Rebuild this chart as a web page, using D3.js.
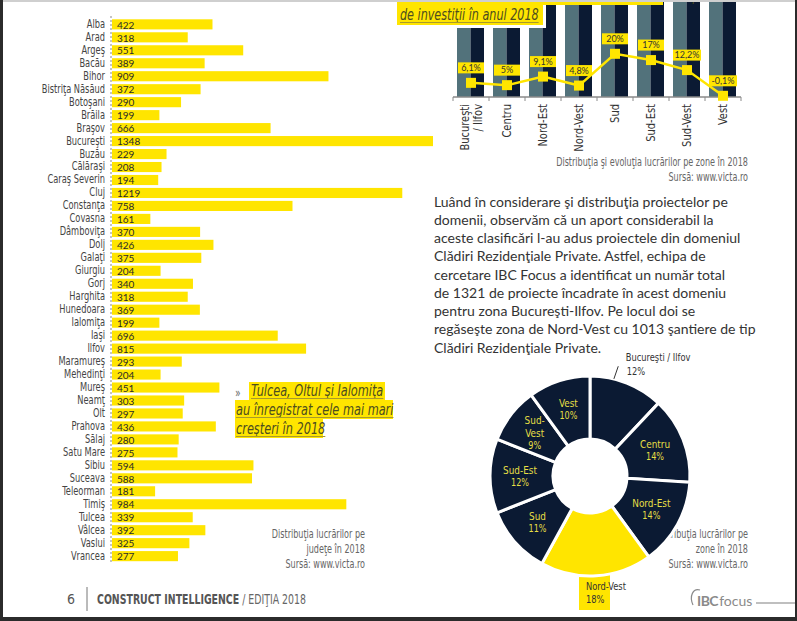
<!DOCTYPE html>
<html><head><meta charset="utf-8">
<script src="https://cdn.jsdelivr.net/npm/d3@7"></script>
<style>
html,body{margin:0;padding:0;background:#fff;}
svg{display:block;}
</style></head><body>
<svg id="c" width="797" height="621"></svg>
<script>
// ---- data ----
const counties = ["Alba","Arad","Argeş","Bacău","Bihor","Bistriţa Năsăud","Botoşani","Brăila","Braşov","Bucureşti","Buzău","Călăraşi","Caraş Severin","Cluj","Constanţa","Covasna","Dâmboviţa","Dolj","Galaţi","Giurgiu","Gorj","Harghita","Hunedoara","Ialomiţa","Iaşi","Ilfov","Maramureş","Mehedinţi","Mureş","Neamţ","Olt","Prahova","Sălaj","Satu Mare","Sibiu","Suceava","Teleorman","Timiş","Tulcea","Vâlcea","Vaslui","Vrancea"];
const countyValues = [422,318,551,389,909,372,290,199,666,1348,229,208,194,1219,758,161,370,426,375,204,340,318,369,199,696,815,293,204,451,303,297,436,280,275,594,588,181,984,339,392,325,277];

const zones = ["Bucureşti / Ilfov","Centru","Nord-Est","Nord-Vest","Sud","Sud-Est","Sud-Vest","Vest"];
// bars run past the top of the page; heights estimated
const zoneWorks2017 = [2560,1740,1530,1890,1180,1140,950,1470];
const zoneWorks2018 = [2716,1827,1669,1981,1416,1334,1066,1469];
const zoneGrowth = [6.1,5,9.1,4.8,20,17,12.2,-0.1];
const zoneGrowthLabels = ["6,1%","5%","9,1%","4,8%","20%","17%","12,2%","-0,1%"];

const donutZones = ["Bucureşti / Ilfov","Centru","Nord-Est","Nord-Vest","Sud","Sud-Est","Sud-Vest","Vest"];
const donutShares = [12,14,14,18,11,12,9,10];

const paragraph = [
 "Luând în considerare şi distribuţia proiectelor pe",
 "domenii, observăm că un aport considerabil la",
 "aceste clasificări l-au adus proiectele din domeniul",
 "Clădiri Rezidenţiale Private. Astfel, echipa de",
 "cercetare IBC Focus a identificat un număr total",
 "de 1321 de proiecte încadrate în acest domeniu",
 "pentru zona Bucureşti-Ilfov. Pe locul doi se",
 "regăseşte zona de Nord-Vest cu 1013 şantiere de tip",
 "Clădiri Rezidenţiale Private."
];
const calloutLines = ["Tulcea, Oltul şi Ialomiţa","au înregistrat cele mai mari","creşteri în 2018"];

// ---- style ----
const YEL = "#ffe500", NAVY = "#0b1a33", TEAL = "#52727b";
const COND = '"Liberation Sans Narrow","Arial Narrow","DejaVu Sans Condensed",sans-serif';
const BODY = 'Lato,"Open Sans",sans-serif';

const svg = d3.select("#c");
// horizontally condense a text around its anchor x
function squeeze(sel, ax, k) {
  sel.attr("transform", `translate(${ax},0) scale(${k},1) translate(${-ax},0)`);
  return sel;
}

// ---- County bar chart ----
const yC = d3.scaleBand().domain(counties).range([19.3, 561.2]).paddingInner(0.22);
const xC = d3.scaleLinear().domain([0, 1348]).range([112, 433]);
const gC = svg.append("g");
gC.append("line").attr("x1",111).attr("x2",111).attr("y1",16).attr("y2",564)
  .attr("stroke","#888").attr("stroke-width",1).attr("stroke-dasharray","2,2");
gC.selectAll("rect.b").data(counties).join("rect")
  .attr("x", xC(0)).attr("y", d=>yC(d)).attr("height", yC.bandwidth())
  .attr("width", (d,i)=>xC(countyValues[i])-xC(0)).attr("fill", YEL);
gC.selectAll("text.n").data(counties).join("text")
  .attr("x",105).attr("y", d=>yC(d)+yC.bandwidth()/2).attr("dy","0.3em")
  .attr("text-anchor","end").attr("font-family",COND).attr("font-size",11.5)
  .attr("fill","#444").text(d=>d)
  .attr("transform","translate(105,0) scale(0.8,1) translate(-105,0)");
gC.selectAll("text.v").data(counties).join("text")
  .attr("x",117).attr("y", d=>yC(d)+yC.bandwidth()/2).attr("dy","0.42em")
  .attr("font-family",BODY).attr("font-size",10).attr("fill","#2a2a2a")
  .text((d,i)=>countyValues[i]);

// caption
const cap1 = svg.append("text").attr("font-family",COND).attr("font-size",11.5).attr("fill","#666").attr("text-anchor","end");
[["Distribuţia lucrărilor pe",538],["judeţe în 2018",553],["Sursă: www.victa.ro",568]].forEach(([t,y])=>
  cap1.append("tspan").attr("x",365).attr("y",y).text(t));
squeeze(cap1, 365, 0.78);

// callout
const gCall = svg.append("g");
const callBoxes = [[249,382,136,18],[235,400,158,19],[235,419,88,19]];
callBoxes.forEach(b=>gCall.append("rect").attr("x",b[0]).attr("y",b[1]).attr("width",b[2]).attr("height",b[3]).attr("fill",YEL));
gCall.append("text").attr("x",235).attr("y",397).attr("font-family",BODY).attr("font-size",13).attr("fill","#777").text("»");
calloutLines.forEach((t,i)=>{
  const x0 = i===0?251:236, y0 = [396,415,434][i];
  const tx = gCall.append("text").attr("x", x0).attr("y",y0)
   .attr("font-family",COND).attr("font-style","italic").attr("font-size",15)
   .attr("fill","#4d4d1f").text(t);
  squeeze(tx, x0, 0.84);
  const w = tx.node().getComputedTextLength()*0.84;
  gCall.append("line").attr("x1",x0).attr("x2",x0+w).attr("y1",y0+2.5).attr("y2",y0+2.5)
   .attr("stroke","#a99a2a").attr("stroke-width",1);
});

// ---- Zone grouped bars + growth line ----
const xZ = d3.scaleBand().domain(zones).range([453, 741]);
const xSub = d3.scaleBand().domain(["2017","2018"]).range([4, 31]);
const yZ = d3.scaleLinear().domain([0, 3000]).range([97, -250]);
const yG = d3.scaleLinear().domain([0, 20]).range([95.6, 53.8]);
const gZ = svg.append("g");
zones.forEach((z,i)=>{
  gZ.append("rect").attr("x", xZ(z)+xSub("2017")).attr("width", xSub.bandwidth())
    .attr("y", yZ(zoneWorks2017[i])).attr("height", yZ(0)-yZ(zoneWorks2017[i])).attr("fill",TEAL);
  gZ.append("rect").attr("x", xZ(z)+xSub("2018")).attr("width", xSub.bandwidth())
    .attr("y", yZ(zoneWorks2018[i])).attr("height", yZ(0)-yZ(zoneWorks2018[i])).attr("fill",NAVY);
});
gZ.append("line").attr("x1",453).attr("x2",741).attr("y1",97).attr("y2",97).attr("stroke","#8a8a8a").attr("stroke-width",1.5);
d3.range(zones.length+1).forEach(i=>{
  const x = 453 + i*xZ.step();
  gZ.append("line").attr("x1",x).attr("x2",x).attr("y1",97).attr("y2",101).attr("stroke","#8a8a8a").attr("stroke-width",1);
});
const cx = z => xZ(z)+xZ.bandwidth()/2;
gZ.append("path").datum(zones).attr("fill","none").attr("stroke",YEL).attr("stroke-width",2.5)
  .attr("d", d3.line().x(z=>cx(z)).y((z,i)=>yG(zoneGrowth[i])));
gZ.selectAll("rect.pt").data(zones).join("rect")
  .attr("x", z=>cx(z)-5).attr("y",(z,i)=>yG(zoneGrowth[i])-5).attr("width",10).attr("height",10).attr("fill",YEL);
zones.forEach((z,i)=>{
  const y = yG(zoneGrowth[i]) - 15;
  const w = zoneGrowthLabels[i].length > 4 ? 28 : 26;
  gZ.append("rect").attr("x", cx(z)-w/2).attr("y", y-5.5).attr("width",w).attr("height",11).attr("fill",YEL);
  gZ.append("text").attr("x", cx(z)).attr("y", y).attr("dy","0.35em").attr("text-anchor","middle")
    .attr("font-family",BODY).attr("font-size",9).attr("fill","#333").text(zoneGrowthLabels[i]);
});
// rotated category labels
zones.forEach(z=>{
  const g = gZ.append("g").attr("transform",`translate(${cx(z)},104) rotate(-90) scale(0.92,1)`);
  const t = g.append("text").attr("text-anchor","end").attr("font-family",COND).attr("font-size",12).attr("fill","#333");
  if (z.includes("/")) {
    const parts = z.split(" / ");
    t.append("tspan").attr("x",0).attr("y",-2).text(parts[0]);
    t.append("tspan").attr("x",0).attr("y",11).text("/ "+parts[1]);
  } else {
    t.attr("y",4).text(z);
  }
});
const cap2 = svg.append("text").attr("font-family",COND).attr("font-size",11.5).attr("fill","#666").attr("text-anchor","end");
cap2.append("tspan").attr("x",748).attr("y",166).text("Distribuţia şi evoluţia lucrărilor pe zone în 2018");
cap2.append("tspan").attr("x",748).attr("y",181).text("Sursă: www.victa.ro");
squeeze(cap2, 748, 0.78);

// title box top
svg.append("rect").attr("x",395).attr("y",-4).attr("width",151).attr("height",32).attr("fill","#fff");
svg.append("rect").attr("x",397).attr("y",-4).attr("width",266).attr("height",9).attr("fill",YEL);
svg.append("rect").attr("x",397).attr("y",-4).attr("width",146).attr("height",29).attr("fill",YEL);
const tt1 = svg.append("text").attr("font-family",COND).attr("font-style","italic").attr("font-size",15).attr("fill","#4d4d1f")
  .attr("x",400).attr("y",1).text("Zona Nord-Vest a avut cel mai mare număr total de proiecte");
squeeze(tt1, 400, 0.83);
const tt2 = svg.append("text").attr("font-family",COND).attr("font-style","italic").attr("font-size",15).attr("fill","#4d4d1f")
  .attr("x",400).attr("y",20).text("de investiţii în anul 2018");
squeeze(tt2, 400, 0.83);
svg.append("line").attr("x1",400).attr("x2",400+tt2.node().getComputedTextLength()*0.83).attr("y1",22.5).attr("y2",22.5)
  .attr("stroke","#a99a2a").attr("stroke-width",1);

// paragraph
const para = svg.append("text").attr("font-family",BODY).attr("font-size",14).attr("fill","#333");
paragraph.forEach((l,i)=>para.append("tspan").attr("x",434).attr("y",206.5+i*18.25).text(l));

// ---- donut ----
const cap3 = svg.append("text").attr("font-family",COND).attr("font-size",11.5).attr("fill","#666").attr("text-anchor","end");
[["Distribuţia lucrărilor pe",538],["zone în 2018",553],["Sursă: www.victa.ro",568]].forEach(([t,y])=>
  cap3.append("tspan").attr("x",748).attr("y",y).text(t));
squeeze(cap3, 748, 0.78);

const DC = [590, 476];
const pie = d3.pie().sort(null).value(d=>d)(donutShares);
const arc = d3.arc().innerRadius(37).outerRadius(100);
const gD = svg.append("g").attr("transform",`translate(${DC[0]},${DC[1]})`);
const hi = donutZones.indexOf("Nord-Vest");
gD.append("rect").attr("x",-11).attr("y",85).attr("width",31).attr("height",49).attr("fill",YEL);
gD.selectAll("path").data(pie).join("path").attr("d",arc)
  .attr("fill",(d,i)=> i===hi ? YEL : NAVY).attr("stroke","#fff").attr("stroke-width",3);
const lArc = d3.arc().innerRadius(70).outerRadius(70);
pie.forEach((p,i)=>{
  const name = donutZones[i];
  if (i===0) {
    const a = p.startAngle + (p.endAngle-p.startAngle)*0.32;
    const x1 = 100*Math.sin(a), y1 = -100*Math.cos(a), x2 = 112*Math.sin(a), y2 = -112*Math.cos(a);
    gD.append("line").attr("x1",x1).attr("y1",y1).attr("x2",x2+1.5).attr("y2",y2-1).attr("stroke","#333").attr("stroke-width",1);
    const t = gD.append("text").attr("font-family",COND).attr("font-size",10.5).attr("fill","#333");
    t.append("tspan").attr("x",x2+9).attr("y",y2-6).text(name);
    t.append("tspan").attr("x",x2+10).attr("y",y2+8).text(donutShares[i]+"%");
    squeeze(t, x2+9, 0.88);
    return;
  }
  if (i===hi) {
    const t = gD.append("text").attr("font-family",COND).attr("font-size",10.5).attr("fill","#333");
    t.append("tspan").attr("x",-4).attr("y",114).text(name);
    t.append("tspan").attr("x",-4).attr("y",127).text(donutShares[i]+"%");
    squeeze(t, -4, 0.88);
    return;
  }
  const [lx,ly] = lArc.centroid(p);
  let lines = [name, donutShares[i]+"%"];
  if (name === "Sud-Vest") lines = ["Sud-","Vest", donutShares[i]+"%"];
  const t = gD.append("text").attr("font-family",COND).attr("font-size",11).attr("fill","#e6df45").attr("text-anchor","middle");
  const h = (lines.length-1)*12.5;
  lines.forEach((l,j)=>t.append("tspan").attr("x",lx).attr("y",ly - h/2 + j*12.5).attr("dy","0.35em")
     .attr("font-size", j===lines.length-1 ? 10 : 11).text(l));
  squeeze(t, lx, 0.9);
});

// ---- footer ----
const ft = svg.append("g").attr("font-family",COND).attr("fill","#555");
ft.append("text").attr("x",71).attr("y",604).attr("text-anchor","middle").attr("font-size",14).text("6");
ft.append("line").attr("x1",87).attr("x2",87).attr("y1",587).attr("y2",611).attr("stroke","#777").attr("stroke-width",1);
const f2 = ft.append("text").attr("x",97).attr("y",604).attr("font-size",14.5);
f2.append("tspan").attr("font-weight","bold").text("CONSTRUCT INTELLIGENCE");
f2.append("tspan").attr("fill","#666").text(" / EDIŢIA 2018");
squeeze(f2, 97, 0.72);
const logo = svg.append("text").attr("x",697).attr("y",606).attr("font-family",BODY).attr("font-size",14).attr("fill","#8a8a8a");
logo.append("tspan").attr("font-weight","bold").attr("letter-spacing","-0.5").text("IBC");
logo.append("tspan").attr("dx",1).text("focus");
svg.append("path").attr("d","M693,605 C689,596 693,588 700,590").attr("fill","none").attr("stroke","#8a8a8a").attr("stroke-width",1.2);
svg.append("line").attr("x1",756).attr("x2",795).attr("y1",603).attr("y2",603).attr("stroke","#aaa").attr("stroke-width",1.5);

// ---- page frame ----
svg.append("rect").attr("x",0).attr("y",0).attr("width",797).attr("height",2).attr("fill","#cfcfcf");
svg.append("rect").attr("x",0).attr("y",0).attr("width",3).attr("height",621).attr("fill","#2b2b2b");
svg.append("rect").attr("x",795).attr("y",0).attr("width",2).attr("height",621).attr("fill","#2b2b2b");
svg.append("rect").attr("x",0).attr("y",617).attr("width",797).attr("height",4).attr("fill","#2b2b2b");
</script>
</body></html>
